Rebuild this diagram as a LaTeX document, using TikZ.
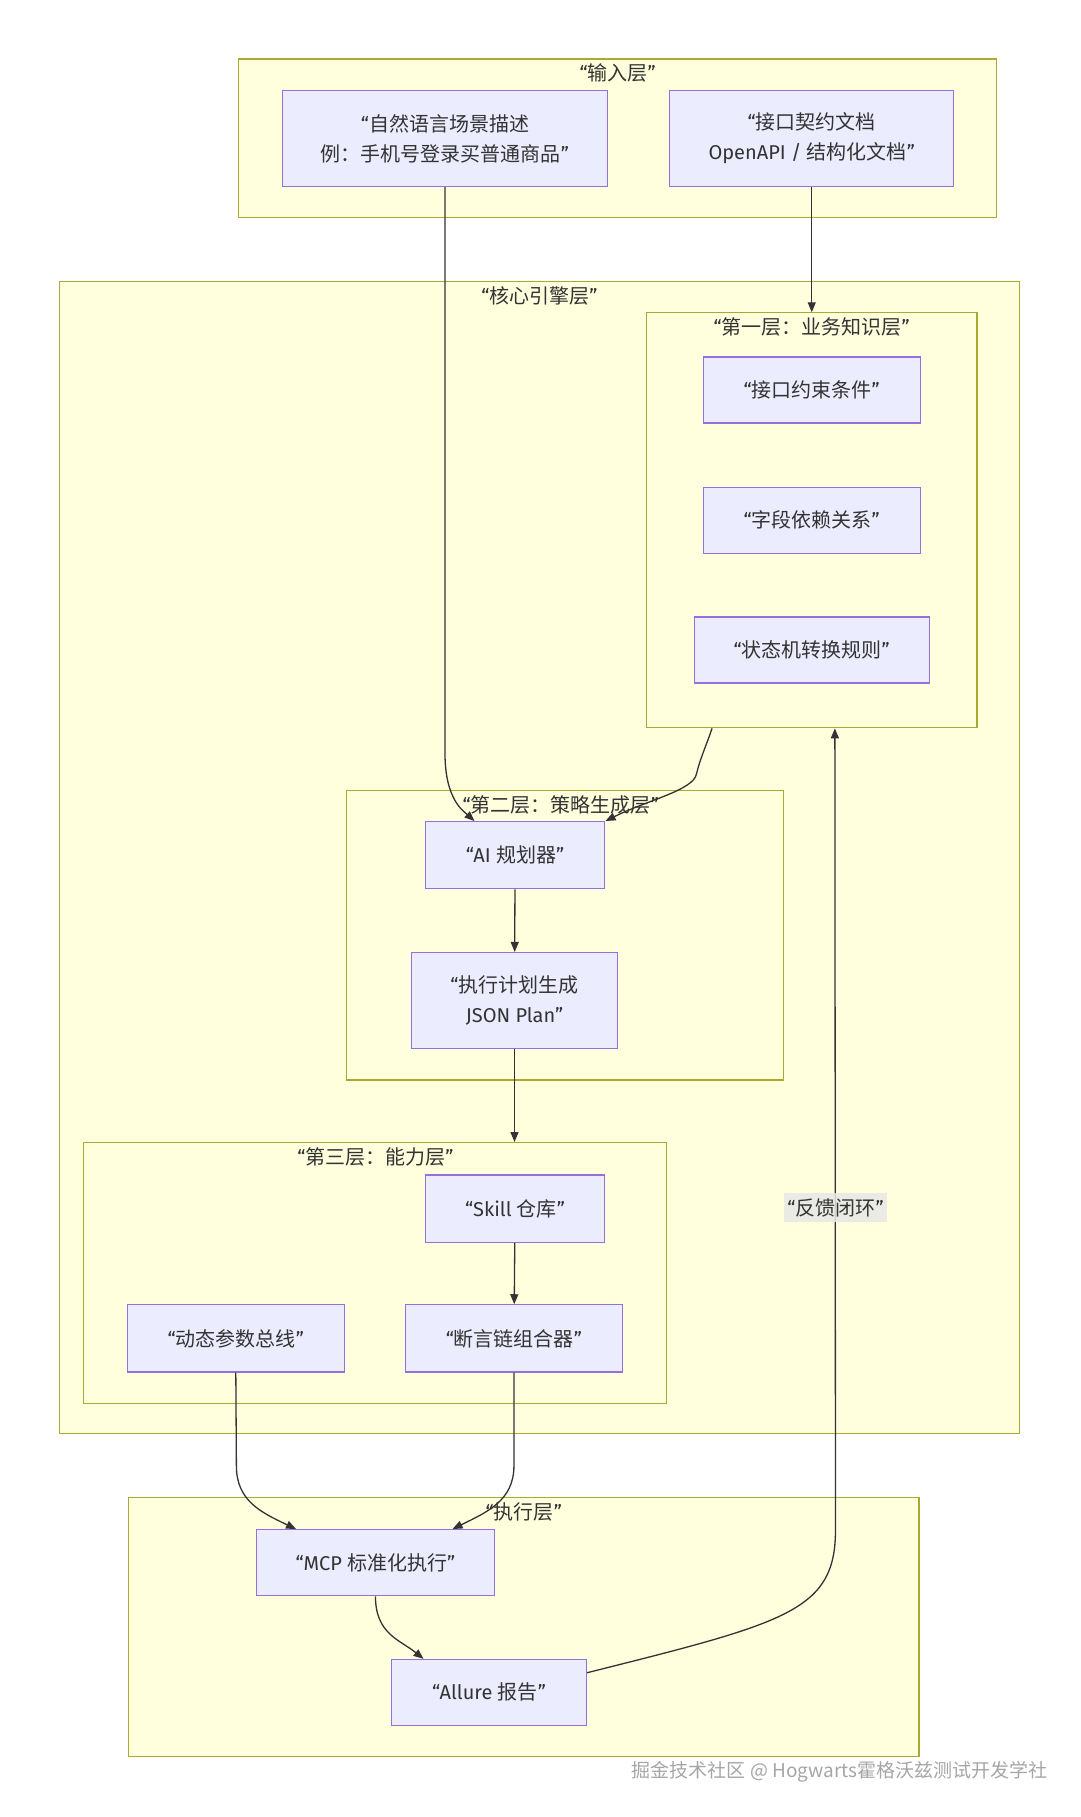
\documentclass[tikz,border=0pt]{standalone}
\usepackage{fontspec}
\setmainfont{Fira Sans}
\newfontfamily\cjk{Noto Sans CJK SC}
\usetikzlibrary{arrows.meta,calc}
\definecolor{clfill}{HTML}{FFFFDE}
\definecolor{cldraw}{HTML}{AAAA33}
\definecolor{ndfill}{HTML}{ECECFF}
\definecolor{nddraw}{HTML}{9370DB}
\definecolor{ink}{HTML}{333333}
\definecolor{lblbg}{HTML}{E8E8E8}
\definecolor{wmgray}{HTML}{A6A6A6}
\newcommand\zh[1]{{\cjk #1}}
\begin{document}
\begin{tikzpicture}[x=1.1588pt,y=-1.1588pt,
  cluster/.style={draw=cldraw,fill=clfill,line width=1.2pt,inner sep=0pt,rectangle},
  box/.style={draw=nddraw,fill=ndfill,line width=1.2pt,text=ink,align=center,
    font=\fontsize{20}{30}\selectfont,inner sep=0pt,rectangle},
  ttl/.style={text=ink,font=\fontsize{20}{24}\selectfont,inner sep=0pt},
  edge/.style={draw=ink,line width=1.3pt,-{Triangle[length=10pt,width=8pt]}},
  lbl/.style={fill=lblbg,fill opacity=0.85,text opacity=1,text=ink,
    font=\fontsize{20}{24}\selectfont,inner xsep=3pt,minimum height=29pt}]
\fill[white] (0,0) rectangle (932,1568);
\useasboundingbox (0,0) rectangle (932,1568);

% clusters
\node[cluster,minimum width=757.9pt,minimum height=158.8pt] (inp) at (533,119.5) {};
\node[ttl] (inpT) at (533,63) {“\zh{输入层}”};
\node[cluster,minimum width=960.6pt,minimum height=1151.8pt] (core) at (465.5,740) {};
\node[ttl] (coreT) at (465.5,255) {“\zh{核心引擎层}”};
\node[cluster,minimum width=330.3pt,minimum height=414.9pt] (L1) at (700.5,449) {};
\node[ttl] (L1T) at (700.5,282.5) {“\zh{第一层：业务知识层}”};
\node[cluster,minimum width=436.9pt,minimum height=289.7pt] (L2) at (487.5,807) {};
\node[ttl] (L2T) at (484,694.5) {“\zh{第二层：策略生成层}”};
\node[cluster,minimum width=582.9pt,minimum height=260.7pt] (L3) at (323.5,1098.5) {};
\node[ttl] (L3T) at (324,998.5) {“\zh{第三层：能力层}”};
\node[cluster,minimum width=790.3pt,minimum height=259.6pt] (exe) at (452,1404) {};
\node[ttl] (exeT) at (452,1304.5) {“\zh{执行层}”};

% nodes
\node[box,minimum width=324.5pt,minimum height=96.2pt] (in1) at (384,119.5)
  {“\zh{自然语言场景描述}\\\zh{例：手机号登录买普通商品}”};
\node[box,minimum width=283.9pt,minimum height=96.2pt] (in2) at (700.5,119.5)
  {“\zh{接口契约文档}\\OpenAPI / \zh{结构化文档}”};
\node[box,minimum width=216.7pt,minimum height=66pt] (k1) at (700.5,336.5) {“\zh{接口约束条件}”};
\node[box,minimum width=216.7pt,minimum height=66pt] (k2) at (700.5,449) {“\zh{字段依赖关系}”};
\node[box,minimum width=235.2pt,minimum height=66pt] (k3) at (700.5,561) {“\zh{状态机转换规则}”};
\node[box,minimum width=179.6pt,minimum height=67.2pt] (ai) at (444.5,738) {“AI \zh{规划器}”};
\node[box,minimum width=206.3pt,minimum height=96.2pt] (plan) at (444,863.5)
  {“\zh{执行计划生成}\\JSON Plan”};
\node[box,minimum width=179.6pt,minimum height=67.2pt] (skill) at (444.5,1043) {“Skill \zh{仓库}”};
\node[box,minimum width=216.7pt,minimum height=67.2pt] (dyn) at (203.5,1155) {“\zh{动态参数总线}”};
\node[box,minimum width=216.7pt,minimum height=67.2pt] (asr) at (443.5,1155) {“\zh{断言链组合器}”};
\node[box,minimum width=238.7pt,minimum height=66pt] (mcp) at (324,1348.5) {“MCP \zh{标准化执行}”};
\node[box,minimum width=194.7pt,minimum height=66pt] (all) at (422,1460.5) {“Allure \zh{报告}”};

% edges
\draw[edge] (in1.south) -- (384,650) .. controls (384,690) and (400,700) .. ($(ai.north west)+(43,0)$);
\draw[edge] (in2.south) -- (L1.north);
\draw[edge] ($(L1.south west)+(57,0)$) .. controls (610,642) and (604,655) .. (601,668)
  .. controls (598,682) and (560,690) .. (ai.north east);
\draw[edge] (ai) -- (plan);
\draw[edge] (plan.south) -- (plan.south |- L3.north);
\draw[edge] (skill) -- (asr);
\draw[edge] (dyn.south) -- (204,1265) .. controls (204,1295) and (225,1305) .. ($(mcp.north west)+(35,0)$);
\draw[edge] (asr.south) -- (443.5,1265) .. controls (443.5,1295) and (420,1305) .. ($(mcp.north east)+(-37,0)$);
\draw[edge] (mcp.south) .. controls (324,1410) and (345,1415) .. ($(all.north west)+(28,0)$);
\draw[edge] ($(all.north east)+(0,12)$) .. controls (680,1400) and (721,1390) .. (721,1320)
  -- ($(L1.south west)+(163,0)$);
\node[lbl] (fb) at (721,1042) {“\zh{反馈闭环}”};

% watermark
\node[anchor=east,text=wmgray,font=\cjk\fontsize{19}{22}\selectfont,inner sep=0pt] (wm) at (904,1529)
  {掘金技术社区 @ Hogwarts霍格沃兹测试开发学社};
\end{tikzpicture}
\end{document}
